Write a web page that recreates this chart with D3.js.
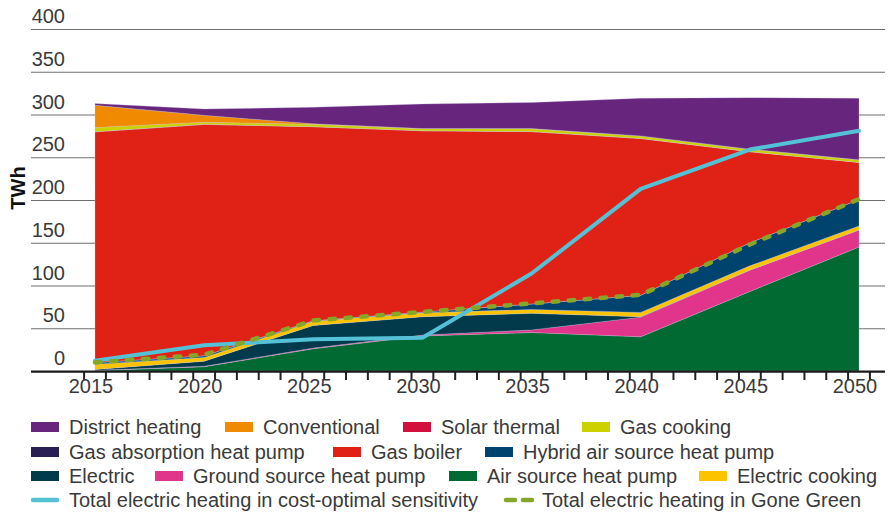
<!DOCTYPE html>
<html><head><meta charset="utf-8">
<script src="https://cdn.jsdelivr.net/npm/d3@7"></script>
<style>
html,body{margin:0;padding:0;background:#fff;}
svg{display:block;font-family:"Liberation Sans",Arial,sans-serif;}
</style></head>
<body>
<svg id="chart" width="890" height="514"></svg>
<script>
// ---- data ----
const years = [2015, 2020, 2025, 2030, 2035, 2040, 2045, 2050];
const airSourceHP      = [0.5, 5, 26, 41, 45, 40, 93, 145];
const groundSourceHP   = [0.3, 0.5, 0.8, 1, 3, 23, 25, 20];
const electric         = [1, 6, 26.5, 21.5, 19.5, 0.5, 0, 0];
const electricCooking  = [6, 4.3, 5, 4.5, 4.5, 5, 5, 4.6];
const hybridASHP       = [2, 2, 0.5, 1, 6.4, 20, 27, 31];
const gasAbsorptionHP  = [0, 0, 0, 0, 0, 0, 0, 0];
const gasBoiler        = [270, 270.7, 227, 212, 201.6, 183.5, 106.5, 43.4];
const solarThermal     = [0, 0, 0, 0, 0, 0, 0, 0];
const gasCooking       = [5, 2.5, 2.8, 2.5, 3.5, 3, 3, 3];
const conventional     = [26, 8, 0.5, 0, 0, 0, 0, 0];
const districtHeating  = [2, 7.4, 19.4, 28.8, 30.5, 44, 60.2, 72];
const costOptimal      = [12, 30, 37, 39, 114, 213, 259, 281];
const goneGreen        = [10, 19, 59, 69, 79, 89, 148, 201];
const yTicks = [0, 50, 100, 150, 200, 250, 300, 350, 400];
const xTickLabels = ["2015", "2020", "2025", "2030", "2035", "2040", "2045", "2050"];

// stack order bottom -> top
const layers = [
  {key: "ashp", name: "Air source heat pump", values: airSourceHP, color: "#006a32"},
  {key: "gshp", name: "Ground source heat pump", values: groundSourceHP, color: "#e0358b"},
  {key: "elec", name: "Electric", values: electric, color: "#023a4c"},
  {key: "ecook", name: "Electric cooking", values: electricCooking, color: "#fcc400"},
  {key: "hyb", name: "Hybrid air source heat pump", values: hybridASHP, color: "#00436f"},
  {key: "gahp", name: "Gas absorption heat pump", values: gasAbsorptionHP, color: "#2a1f52"},
  {key: "boil", name: "Gas boiler", values: gasBoiler, color: "#e02216"},
  {key: "sol", name: "Solar thermal", values: solarThermal, color: "#d3103d"},
  {key: "gcook", name: "Gas cooking", values: gasCooking, color: "#cdd100"},
  {key: "conv", name: "Conventional", values: conventional, color: "#f08a00"},
  {key: "dh", name: "District heating", values: districtHeating, color: "#68257e"}
];
const lineCyan = "#55c1d6", lineGreen = "#86a629";

const svg = d3.select("#chart");
const x = d3.scaleLinear().domain([2015, 2050]).range([95, 859]);
const y = d3.scaleLinear().domain([0, 400]).range([371, 29]);
const gridX0 = 31, gridX1 = 885;

// gridlines
svg.append("g").selectAll("line").data(yTicks.filter(d => d > 0)).join("line")
  .attr("x1", gridX0).attr("x2", gridX1)
  .attr("y1", d => y(d) + 0.5).attr("y2", d => y(d) + 0.5)
  .attr("stroke", "#6f6f6f").attr("stroke-width", 1.2);

// y labels
svg.append("g").selectAll("text").data(yTicks).join("text")
  .attr("x", 65).attr("y", d => y(d) - 6)
  .attr("text-anchor", "end").attr("font-size", 20).attr("fill", "#3a3a3a")
  .text(d => d);

// stack
const table = years.map((yr, i) => {
  const o = {year: yr};
  layers.forEach(l => o[l.key] = l.values[i]);
  return o;
});
const stack = d3.stack().keys(layers.map(l => l.key));
const series = stack(table);
const area = d3.area().x(d => x(d.data.year)).y0(d => y(d[0])).y1(d => y(d[1]));
svg.append("g").selectAll("path").data(series).join("path")
  .attr("d", area)
  .attr("fill", (d, i) => layers[i].color)
  .attr("stroke", "rgba(200,200,230,0.45)").attr("stroke-width", 0.6);

// lines
const line = d3.line().x((d, i) => x(years[i])).y(d => y(d));
svg.append("path").attr("d", line(costOptimal)).attr("fill", "none")
  .attr("stroke", lineCyan).attr("stroke-width", 4).attr("stroke-linejoin", "round").attr("stroke-linecap", "round");
svg.append("path").attr("d", line(goneGreen)).attr("fill", "none")
  .attr("stroke", lineGreen).attr("stroke-width", 4.5).attr("stroke-dasharray", "5.5 10.5")
  .attr("stroke-linecap", "round").attr("stroke-linejoin", "round");

// x axis
const minorTicks = d3.range(2014.5, 2051, 1);
svg.append("g").selectAll("line").data(minorTicks).join("line")
  .attr("x1", d => x(d)).attr("x2", d => x(d))
  .attr("y1", 371).attr("y2", 380)
  .attr("stroke", "#222").attr("stroke-width", 2);
svg.append("line").attr("x1", gridX0).attr("x2", gridX1)
  .attr("y1", 371.7).attr("y2", 371.7).attr("stroke", "#1a1a1a").attr("stroke-width", 2.2);
svg.append("g").selectAll("text").data(xTickLabels).join("text")
  .attr("x", (d, i) => x(years[i]) - 4).attr("y", 393)
  .attr("text-anchor", "middle").attr("font-size", 20).attr("fill", "#3a3a3a")
  .text(d => d);

// y axis title
svg.append("text").attr("transform", "translate(25,188) rotate(-90)")
  .attr("text-anchor", "middle").attr("font-size", 20).attr("font-weight", "bold")
  .attr("fill", "#111").text("TWh");

// legend
const byName = n => layers.find(l => l.name === n);
const legendRows = [
  {cy: 427, items: [["District heating", 31], ["Conventional", 225], ["Solar thermal", 403], ["Gas cooking", 582]]},
  {cy: 452, items: [["Gas absorption heat pump", 31], ["Gas boiler", 333], ["Hybrid air source heat pump", 485]]},
  {cy: 476, items: [["Electric", 31], ["Ground source heat pump", 155], ["Air source heat pump", 449], ["Electric cooking", 699]]}
];
const lg = svg.append("g");
legendRows.forEach(r => {
  r.items.forEach(([name, lx]) => {
    lg.append("rect").attr("x", lx).attr("y", r.cy - 5).attr("width", 28).attr("height", 10)
      .attr("fill", byName(name).color);
    lg.append("text").attr("x", lx + 38).attr("y", r.cy + 7).attr("font-size", 20)
      .attr("fill", "#3a3a3a").text(name);
  });
});
const ly = 500;
lg.append("line").attr("x1", 33).attr("x2", 57).attr("y1", ly).attr("y2", ly)
  .attr("stroke", lineCyan).attr("stroke-width", 4.5).attr("stroke-linecap", "round");
lg.append("text").attr("x", 69).attr("y", ly + 7).attr("font-size", 20).attr("fill", "#3a3a3a")
  .text("Total electric heating in cost-optimal sensitivity");
lg.append("line").attr("x1", 506).attr("x2", 532).attr("y1", ly).attr("y2", ly)
  .attr("stroke", lineGreen).attr("stroke-width", 4.5).attr("stroke-dasharray", "9 8")
  .attr("stroke-linecap", "round");
lg.append("text").attr("x", 542).attr("y", ly + 7).attr("font-size", 20).attr("fill", "#3a3a3a")
  .text("Total electric heating in Gone Green");
</script>
</body></html>
